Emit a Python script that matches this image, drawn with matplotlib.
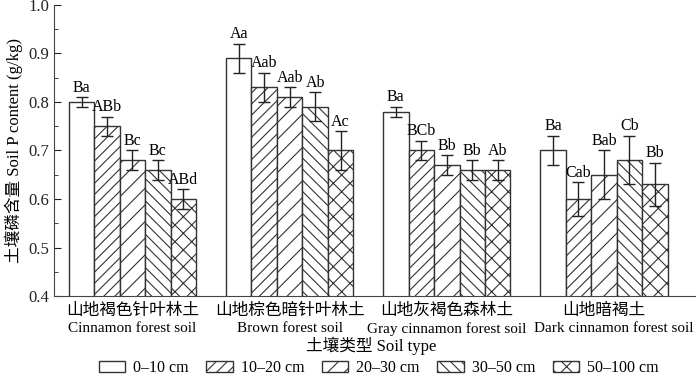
import matplotlib
matplotlib.use("Agg")
import matplotlib.pyplot as plt
import numpy as np
from matplotlib.patches import Patch

plt.rcParams['font.family'] = ['Liberation Serif', 'Noto Sans CJK SC']
plt.rcParams['hatch.linewidth'] = 0.8

# soil types (x categories)
soil_cn = ["山地褐色针叶林土", "山地棕色暗针叶林土", "山地灰褐色森林土", "山地暗褐土"]
soil_en = ["Cinnamon forest soil", "Brown forest soil", "Gray cinnamon forest soil",
           "Dark cinnamon forest soil"]

# depth layers (series)
depths = ["0–10 cm", "10–20 cm", "20–30 cm", "30–50 cm", "50–100 cm"]

# soil P content, rows = depth, cols = soil type
p_0_10 = [0.80, 0.89, 0.78, 0.70]
p_10_20 = [0.75, 0.83, 0.70, 0.60]
p_20_30 = [0.68, 0.81, 0.67, 0.65]
p_30_50 = [0.66, 0.79, 0.66, 0.68]
p_50_100 = [0.60, 0.70, 0.66, 0.63]

# standard errors
e_0_10 = [0.01, 0.03, 0.01, 0.03]
e_10_20 = [0.02, 0.03, 0.02, 0.035]
e_20_30 = [0.02, 0.02, 0.02, 0.05]
e_30_50 = [0.02, 0.03, 0.02, 0.05]
e_50_100 = [0.02, 0.04, 0.02, 0.045]

# significance letters
s_0_10 = ["Ba", "Aa", "Ba", "Ba"]
s_10_20 = ["ABb", "Aab", "BCb", "Cab"]
s_20_30 = ["Bc", "Aab", "Bb", "Bab"]
s_30_50 = ["Bc", "Ab", "Bb", "Cb"]
s_50_100 = ["ABd", "Ac", "Ab", "Bb"]

values = [p_0_10, p_10_20, p_20_30, p_30_50, p_50_100]
errors = [e_0_10, e_10_20, e_20_30, e_30_50, e_50_100]
letters = [s_0_10, s_10_20, s_20_30, s_30_50, s_50_100]
hatches = ['', '///', '//', '\\\\\\', 'xx']

fig = plt.figure(figsize=(7, 3.81), dpi=100)
ax = fig.add_axes([0.077, 0.223, 0.916, 0.764])

x = np.arange(len(soil_cn))
w = 0.162
edge = '#333333'

for i in range(5):
    xs = x + (i - 2) * w
    ax.bar(xs, values[i], w, bottom=0, color='white', edgecolor=edge,
           linewidth=1, hatch=hatches[i], zorder=2)
    ax.errorbar(xs, values[i], yerr=errors[i], fmt='none', ecolor='#222222',
                elinewidth=1, capsize=4, capthick=1, zorder=3)
    for xx, v, e, s in zip(xs, values[i], errors[i], letters[i]):
        ax.text(xx, v + e + 0.003, s, ha='center', va='bottom', fontsize=11.5)

ax.set_ylim(0.4, 1.0)
ax.set_xlim(-0.5, 3.58)
ax.set_yticks(np.arange(0.4, 1.01, 0.1))
ax.set_yticklabels([f"{t:.1f}" for t in np.arange(0.4, 1.01, 0.1)], fontsize=12)
ax.set_yticks(np.arange(0.45, 1.0, 0.1), minor=True)
ax.tick_params(axis='y', which='both', direction='in', colors='#222222')
ax.tick_params(axis='y', which='major', length=5)
ax.tick_params(axis='y', which='minor', length=3)

# chinese names as tick labels, english names as a second row
ax.set_xticks(x)
ax.set_xticklabels(soil_cn, fontsize=12)
ax.tick_params(axis='x', length=0, pad=5)
trans = ax.get_xaxis_transform()
en_shift = [0, 0, 0, 0.06]  # last name is pushed right in the original
for xx, name, dx in zip(x, soil_en, en_shift):
    ax.text(xx + dx, -0.113, name, transform=trans, ha='center', va='center',
            fontsize=11)

for sp in ['top', 'right']:
    ax.spines[sp].set_visible(False)
for sp in ['left', 'bottom']:
    ax.spines[sp].set_color('#444444')

ax.set_ylabel("土壤磷含量 Soil P content (g/kg)", fontsize=12, labelpad=4)
fig.text(0.53, 1 - 346 / 381, "土壤类型 Soil type", ha='center', va='center', fontsize=12)

handles = [Patch(facecolor='white', edgecolor=edge, hatch=h, label=d)
           for h, d in zip(hatches, depths)]
fig.legend(handles=handles, loc='center', bbox_to_anchor=(0.541, 0.034), ncol=5,
           frameon=False, fontsize=11.5, handlelength=1.65, handleheight=0.75,
           handletextpad=0.5, columnspacing=1.1)

fig.savefig("out.png", dpi=100)
